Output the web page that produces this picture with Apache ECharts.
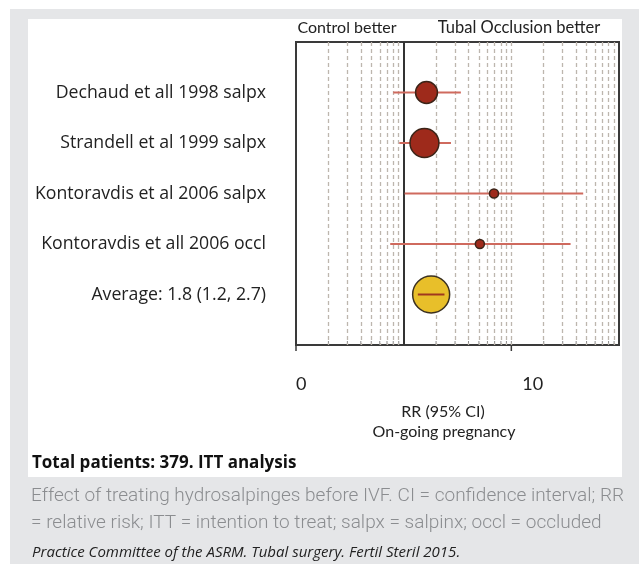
<!DOCTYPE html>
<html>
<head>
<meta charset="utf-8">
<script src="https://cdn.jsdelivr.net/npm/echarts@6/dist/echarts.min.js"></script>
<style>html,body{margin:0;padding:0;background:#fff}#c{width:639px;height:564px}</style>
</head>
<body>
<div id="c"></div>
<script>
// ---- data ----
const categories = [
  'Dechaud et all 1998 salpx',
  'Strandell et al 1999 salpx',
  'Kontoravdis et al 2006 salpx',
  'Kontoravdis et all 2006 occl',
  'Average: 1.8 (1.2, 2.7)'
];
const rr = [1.63, 1.56, 6.9, 5.1, 1.8];
const ciLow = [0.80, 0.91, 1.02, 0.75, 1.2];
const ciHigh = [3.4, 2.75, 46.5, 35.5, 2.7];
const weights = [35, 61, 6, 6, 100];
const pooled = [false, false, false, false, true];
const gridValues = [0.2,0.3,0.4,0.5,0.6,0.7,0.8,0.9,2,3,4,5,6,7,8,9,10,20,30,40,50,60,70,80,90];
const tickValues = [0.1, 10];
const tickLabels = ['0', '10'];
const refValue = 1;

const chart = echarts.init(document.getElementById('c'), null, {renderer: 'canvas'});
const FONT = 'Open Sans';
const rows = rr.map((v, i) => [v, i + 1, ciLow[i], ciHigh[i], weights[i], pooled[i] ? 1 : 0]);
const tickRows = tickValues.map(v => [v, 1]).concat(gridValues.map(v => [v, 0]));

const option = {
  animation: false,
  backgroundColor: '#ffffff',
  graphic: [
    {type: 'rect', z: -10, silent: true, shape: {x: 10, y: 9, width: 629, height: 555}, style: {fill: '#e5e6e8'}},
    {type: 'rect', z: -9, silent: true, shape: {x: 28, y: 19, width: 594, height: 458}, style: {fill: '#ffffff'}},
    {type: 'text', style: {x: 347, y: 28, text: 'Control better', align: 'center', verticalAlign: 'middle', fontFamily: 'Lato', fontSize: 16, fill: '#222'}},
    {type: 'text', style: {x: 519, y: 28, text: 'Tubal Occlusion better', align: 'center', verticalAlign: 'middle', fontFamily: 'Lato', fontSize: 16.5, fill: '#222'}},
    {type: 'text', style: {x: 443, y: 412, text: 'RR (95% CI)', align: 'center', verticalAlign: 'middle', fontFamily: 'Lato', fontSize: 16, fill: '#222'}},
    {type: 'text', style: {x: 444, y: 432, text: 'On-going pregnancy', align: 'center', verticalAlign: 'middle', fontFamily: 'Lato', fontSize: 16, fill: '#222'}},
    {type: 'text', style: {x: 32, y: 463, text: 'Total patients: 379. ITT analysis', verticalAlign: 'middle', fontFamily: 'Open Sans', fontWeight: 'bold', fontSize: 17, fill: '#111'}},
    {type: 'text', style: {x: 31, y: 496, text: 'Effect of treating hydrosalpinges before IVF. CI = confidence interval; RR', verticalAlign: 'middle', fontFamily: 'Roboto', fontWeight: 300, fontSize: 19, fill: '#8b8d90'}},
    {type: 'text', style: {x: 31, y: 523, text: '= relative risk; ITT = intention to treat; salpx = salpinx; occl = occluded', verticalAlign: 'middle', fontFamily: 'Roboto', fontWeight: 300, fontSize: 19, fill: '#8b8d90'}},
    {type: 'text', style: {x: 32, y: 553, text: 'Practice Committee of the ASRM. Tubal surgery. Fertil Steril 2015.', verticalAlign: 'middle', fontFamily: 'Open Sans', fontStyle: 'italic', fontSize: 15, fill: '#222'}}
  ],
  grid: {left: 296, right: 20, top: 42, bottom: 219, show: true, backgroundColor: '#ffffff', borderColor: '#3a3a3a', borderWidth: 2},
  xAxis: {
    type: 'log', logBase: 10, min: 0.1, max: 100,
    axisLine: {show: true, lineStyle: {color: '#3a3a3a', width: 2}},
    axisTick: {show: false},
    axisLabel: {
      show: true, customValues: tickValues, margin: 30, align: 'left',
      formatter: (v) => {
        const i = tickValues.findIndex(t => Math.abs(t - v) / t < 1e-6);
        return i === 0 ? '{a|' + tickLabels[i] + '}' : '{b|' + tickLabels[i] + '}';
      },
      rich: {
        a: {fontFamily: 'Lato', fontSize: 18, color: '#222'},
        b: {fontFamily: 'Lato', fontSize: 18, color: '#222', padding: [0, 0, 0, 11]}
      }
    },
    splitLine: {show: false}
  },
  yAxis: {
    type: 'value', min: 0, max: 6, interval: 1, inverse: true,
    axisLine: {show: false}, axisTick: {show: false}, splitLine: {show: false},
    axisLabel: {
      margin: 30, fontFamily: FONT, fontSize: 17.7, color: '#222',
      formatter: (v) => categories[v - 1] || ''
    }
  },
  series: [
    {
      type: 'line', data: [], silent: true,
      markLine: {
        silent: true, symbol: 'none', label: {show: false}, animation: false,
        data: gridValues.map(v => ({xAxis: v, lineStyle: {color: '#bdb6ae', type: [4, 3], width: 1.3}}))
          .concat([{xAxis: refValue, lineStyle: {color: '#333', type: 'solid', width: 2}}])
      }
    },
    {
      // axis tick marks: major ticks point outward, minor ticks inward
      type: 'custom', silent: true, data: tickRows, z: 4, clip: false,
      renderItem: (params, api) => {
        const p = api.coord([api.value(0), 6]);
        const major = api.value(1) === 1;
        return {
          type: 'line',
          shape: major ? {x1: p[0], y1: p[1], x2: p[0], y2: p[1] + 6} : {x1: p[0], y1: p[1], x2: p[0], y2: p[1] - 4},
          style: {stroke: major ? '#3a3a3a' : '#8a8a8a', lineWidth: major ? 1.5 : 1}
        };
      }
    },
    {
      type: 'custom',
      data: rows,
      z: 5,
      renderItem: (params, api) => {
        const x = api.value(0), y = api.value(1);
        const lo = api.coord([api.value(2), y]);
        const hi = api.coord([api.value(3), y]);
        const c = api.coord([x, y]);
        const r = 18.5 * Math.sqrt(api.value(4) / 100);
        const isPooled = api.value(5) === 1;
        const children = [];
        if (!isPooled) {
          children.push({type: 'line', shape: {x1: lo[0], y1: lo[1], x2: hi[0], y2: hi[1]}, style: {stroke: '#cf6a5e', lineWidth: 2}});
          children.push({type: 'circle', shape: {cx: c[0], cy: c[1], r: r}, style: {fill: '#9e2a1b', stroke: '#3b2418', lineWidth: 1.5}});
        } else {
          children.push({type: 'circle', shape: {cx: c[0], cy: c[1], r: r}, style: {fill: '#e8bf2a', stroke: '#3b3020', lineWidth: 1.5}});
          children.push({type: 'line', shape: {x1: c[0] - r * 0.72, y1: c[1], x2: c[0] + r * 0.72, y2: c[1]}, style: {stroke: '#a0381e', lineWidth: 2}});
        }
        return {type: 'group', children};
      }
    }
  ]
};
chart.setOption(option);
</script>
</body>
</html>
